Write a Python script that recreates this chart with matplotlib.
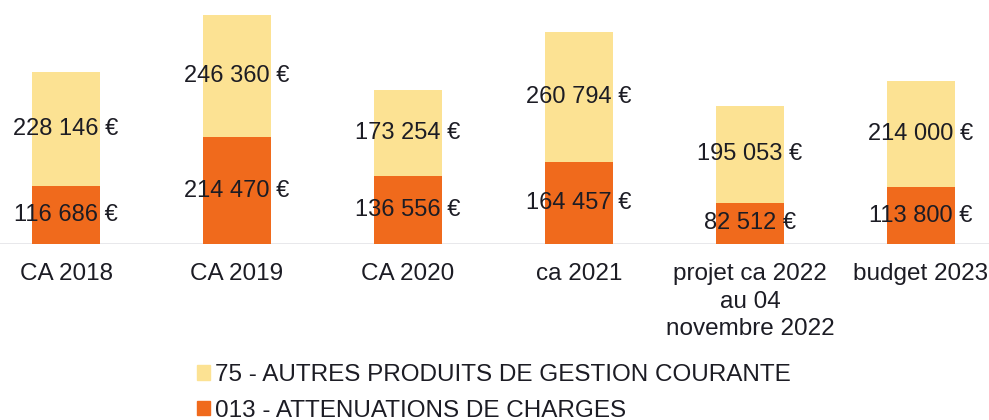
import matplotlib.pyplot as plt
from matplotlib.patches import Patch
import numpy as np

plt.rcParams['font.family'] = ['Liberation Sans', 'DejaVu Sans']

categories = ['CA 2018', 'CA 2019', 'CA 2020', 'ca 2021',
              'projet ca 2022\nau 04\nnovembre 2022', 'budget 2023']
attenuations = [116686, 214470, 136556, 164457, 82512, 113800]
autres_produits = [228146, 246360, 173254, 260794, 195053, 214000]
legend_labels = ['75 - AUTRES PRODUITS DE GESTION COURANTE',
                 '013 - ATTENUATIONS DE CHARGES']

col_orange = '#F06A1C'
col_yellow = '#FCE293'
txt_col = '#1c1c24'

fig = plt.figure(figsize=(9.89, 4.2), dpi=100)
ax = fig.add_axes([0, 0.419, 1, 0.581])

x = np.arange(len(categories))
w = 0.4
bottom_bars = ax.bar(x, attenuations, w, color=col_orange, zorder=2)
top_bars = ax.bar(x, autres_produits, w, bottom=attenuations, color=col_yellow, zorder=2)

def fmt(v):
    return f"{v:,}".replace(",", " ") + " €"

# labels in the middle of each segment
for i in range(len(x)):
    ax.text(x[i], attenuations[i] / 2, fmt(attenuations[i]), ha='center', va='center',
            fontsize=17, color=txt_col, zorder=3)
    ax.text(x[i], attenuations[i] + autres_produits[i] / 2, fmt(autres_produits[i]),
            ha='center', va='center', fontsize=17, color=txt_col, zorder=3)

ax.axhline(0, color='#e4e4e8', lw=1.2, zorder=1)
ax.set_xlim(-0.386, 5.398)
ax.set_ylim(0, 490440)
ax.set_xticks(x)
ax.set_xticklabels(categories, fontsize=17.5, color=txt_col, linespacing=1.3)
ax.tick_params(axis='x', length=0, pad=14)
ax.set_yticks([])
for s in ax.spines.values():
    s.set_visible(False)

handles = [Patch(color=col_yellow), Patch(color=col_orange)]
fig.legend(handles, legend_labels, loc='upper left', bbox_to_anchor=(0.199, 0.133),
           frameon=False, fontsize=17.5, handlelength=0.55, handleheight=0.55,
           handletextpad=0.2, labelspacing=0.55, borderpad=0, borderaxespad=0,
           labelcolor=txt_col)

fig.savefig('out.png', dpi=100)
